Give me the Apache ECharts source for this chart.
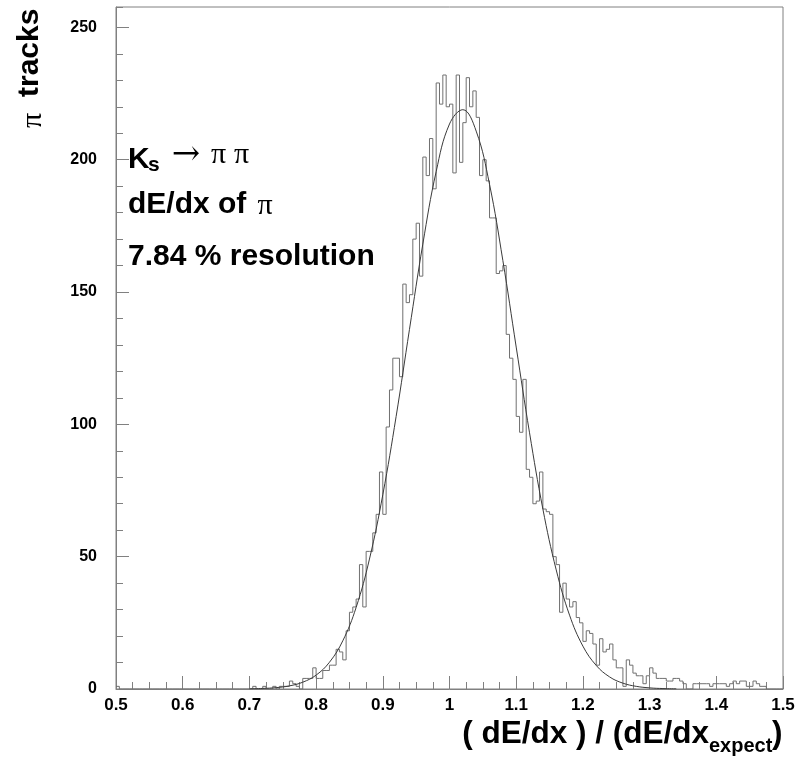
<!DOCTYPE html>
<html><head><meta charset="utf-8">
<script src="https://cdn.jsdelivr.net/npm/echarts/dist/echarts.min.js"></script>
<style>html,body{margin:0;padding:0;background:#fff}#c{width:798px;height:760px}</style>
</head><body><div id="c"></div>
<script>
// ---- data ----
const xMin = 0.5, xMax = 1.5, binWidth = 0.005;
const yMin = 0, yMax = 257.7;
const xTickLabels = ['0.5','0.6','0.7','0.8','0.9','1','1.1','1.2','1.3','1.4','1.5'];
const yTickLabels = ['0','50','100','150','200','250'];
// pi track counts per bin (200 bins of 0.005 from 0.5 to 1.5)
const counts = [
  1,0,0,0,0,0,0,0,0,0, 0,0,0,0,0,0,0,0,0,0,
  0,0,0,0,0,0,0,0,0,0, 0,0,0,0,0,0,0,0,0,0,
  0,1,0,0,1,0,0,1,0,1, 1,1,3,2,1,0,4,4,4,8,
  4,4,7,7,9,9,15,14,11,22, 29,31,34,47,31,52,52,59,66,82,
  66,99,113,125,125,118,153,146,149,170, 176,156,201,194,208,189,229,221,232,220,
  221,195,232,199,214,231,220,226,216,194, 200,192,178,178,157,158,160,134,125,117,
  103,97,117,83,80,70,71,82,68,67, 66,50,47,29,40,34,31,33,27,25,
  18,22,21,17,9,19,14,15,17,11, 8,8,1,11,9,6,5,5,2,5,
  8,6,4,4,4,3,3,4,4,3, 2,0,0,2,2,2,2,2,1,2,
  2,2,2,1,2,3,2,3,3,1, 1,3,2,1,1,0,0,0,0,0
];
// Gaussian fit curve
const fitX = [0.70,0.72,0.74,0.76,0.78,0.80,0.82,0.84,0.86,0.88,0.90,0.92,0.94,0.96,0.98,1.00,1.02,1.04,1.06,1.08,1.10,1.12,1.14,1.16,1.18,1.20,1.22,1.24,1.26,1.28,1.30,1.32,1.34];
const fitY = [0.08,0.21,0.51,1.18,2.57,5.24,10.1,18.2,30.8,49.1,73.4,103.0,135.9,168.1,195.5,213.5,218.9,210.8,190.7,161.9,129.2,96.8,68.0,45.0,27.9,16.2,8.9,4.57,2.20,1.00,0.43,0.17,0.06];

// ---- build ----
const histData = counts.map((c, i) => [xMin + i * binWidth, c]);
histData.push([xMax, counts[counts.length - 1]]);
const fitData = fitX.map((x, i) => [x, fitY[i]]);

const AX = '#808080';
const SANS = 'Liberation Sans, Arial, Helvetica, sans-serif';
const SERIF = 'Liberation Serif, DejaVu Serif, Times New Roman, serif';

const chart = echarts.init(document.getElementById('c'), null, {renderer: 'canvas'});
chart.setOption({
  animation: false,
  backgroundColor: '#fff',
  grid: {left: 116, right: 15, top: 7, bottom: 71, show: true, borderColor: AX, borderWidth: 1, backgroundColor: 'transparent'},
  xAxis: [
    {type: 'value', min: xMin, max: xMax, interval: 0.1, position: 'bottom',
     axisLine: {show: true, lineStyle: {color: AX, width: 1}},
     axisTick: {show: true, inside: true, length: 13, lineStyle: {color: AX}},
     axisLabel: {show: true, margin: 8, color: '#000', fontFamily: SANS, fontWeight: 'bold', fontSize: 17,
       formatter: v => { const k = Math.round((v - xMin) / 0.1); return Math.abs(v - (xMin + k * 0.1)) < 1e-6 ? xTickLabels[k] : ''; }},
     splitLine: {show: false}},
    {type: 'value', min: xMin, max: xMax, interval: 0.025, position: 'bottom',
     axisLine: {show: false}, axisTick: {show: true, inside: true, length: 7, lineStyle: {color: AX}},
     axisLabel: {show: false}, splitLine: {show: false}}
  ],
  yAxis: [
    {type: 'value', min: yMin, max: yMax, interval: 50, position: 'left',
     axisLine: {show: true, lineStyle: {color: AX, width: 1}},
     axisTick: {show: true, inside: true, length: 13, lineStyle: {color: AX}},
     axisLabel: {show: true, margin: 19, color: '#000', fontFamily: SANS, fontWeight: 'bold', fontSize: 16, showMaxLabel: false,
       formatter: v => { const k = Math.round(v / 50); return Math.abs(v - k * 50) < 1e-6 ? yTickLabels[k] : ''; }},
     splitLine: {show: false}},
    {type: 'value', min: yMin, max: yMax, interval: 10, position: 'left', offset: 0,
     axisLine: {show: false}, axisTick: {show: true, inside: true, length: 7, lineStyle: {color: AX}},
     axisLabel: {show: false}, splitLine: {show: false}}
  ],
  series: [
    {type: 'line', name: 'hist', xAxisIndex: 0, yAxisIndex: 0, step: 'end', data: histData,
     showSymbol: false, symbol: 'none', lineStyle: {color: '#707070', width: 1}, silent: true},
    {type: 'line', name: 'fit', xAxisIndex: 0, yAxisIndex: 0, smooth: 0.4, data: fitData,
     showSymbol: false, symbol: 'none', lineStyle: {color: '#3a3a3a', width: 1}, silent: true}
  ],
  graphic: [
    // y axis title (reads bottom to top)
    {type: 'text', x: 33, y: 128, rotation: Math.PI / 2, silent: true,
     style: {text: '\u03c0', fontFamily: SERIF, fontSize: 30, fill: '#000', align: 'left', verticalAlign: 'middle'}},
    {type: 'text', x: 30, y: 97, rotation: Math.PI / 2, silent: true,
     style: {text: 'tracks', fontFamily: SANS, fontWeight: 'bold', fontSize: 30, fill: '#000', align: 'left', verticalAlign: 'middle'}},
    // annotation line 1: K_s -> pi pi
    {type: 'text', x: 128, y: 170 - 10.5, silent: true, style: {text: 'K', fontFamily: SANS, fontWeight: 'bold', fontSize: 30, fill: '#000', verticalAlign: 'middle'}},
    {type: 'text', x: 148, y: 173 - 7.3, silent: true, style: {text: 's', fontFamily: SANS, fontWeight: 'bold', fontSize: 21, fill: '#000', verticalAlign: 'middle'}},
    {type: 'text', x: 186, y: 155, silent: true, style: {text: '\u2192', fontFamily: 'DejaVu Serif, serif', fontSize: 34, fill: '#000', align: 'center', verticalAlign: 'middle'}},
    {type: 'text', x: 218.5, y: 166 - 10.5, silent: true, style: {text: '\u03c0', fontFamily: SERIF, fontSize: 30, fill: '#000', align: 'center', verticalAlign: 'middle'}},
    {type: 'text', x: 241.5, y: 166 - 10.5, silent: true, style: {text: '\u03c0', fontFamily: SERIF, fontSize: 30, fill: '#000', align: 'center', verticalAlign: 'middle'}},
    // line 2
    {type: 'text', x: 128, y: 215 - 10.5, silent: true, style: {text: 'dE/dx of', fontFamily: SANS, fontWeight: 'bold', fontSize: 30, fill: '#000', verticalAlign: 'middle'}},
    {type: 'text', x: 265, y: 217 - 10.5, silent: true, style: {text: '\u03c0', fontFamily: SERIF, fontSize: 30, fill: '#000', align: 'center', verticalAlign: 'middle'}},
    // line 3
    {type: 'text', x: 128, y: 267 - 10.5, silent: true, style: {text: '7.84 % resolution', fontFamily: SANS, fontWeight: 'bold', fontSize: 30, fill: '#000', verticalAlign: 'middle'}},
    // x axis title
    {type: 'text', x: 709, y: 745 - 11, silent: true, style: {text: '( dE/dx ) / (dE/dx', fontFamily: SANS, fontWeight: 'bold', fontSize: 31.5, fill: '#000', align: 'right', verticalAlign: 'middle'}},
    {type: 'text', x: 709, y: 753 - 7, silent: true, style: {text: 'expect', fontFamily: SANS, fontWeight: 'bold', fontSize: 20, fill: '#000', verticalAlign: 'middle'}},
    {type: 'text', x: 772, y: 745 - 11, silent: true, style: {text: ')', fontFamily: SANS, fontWeight: 'bold', fontSize: 31.5, fill: '#000', verticalAlign: 'middle'}}
  ]
});
</script>
</body></html>
